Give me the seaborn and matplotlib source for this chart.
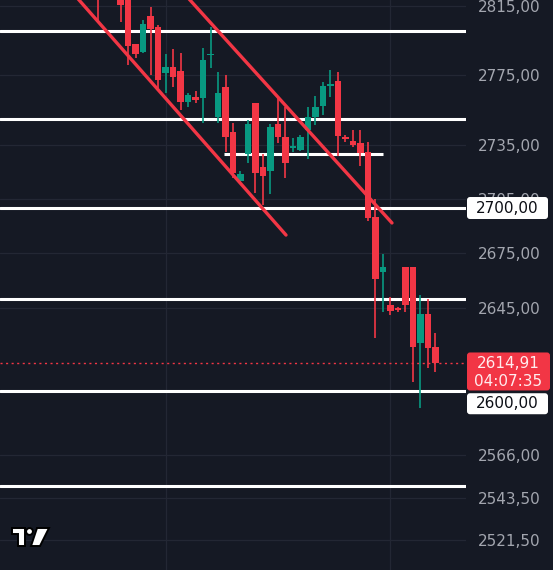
import numpy as np
import pandas as pd
import matplotlib
matplotlib.use("Agg")
import matplotlib.pyplot as plt
import matplotlib.transforms as mtransforms
from matplotlib.patches import FancyBboxPatch, Polygon, Circle
from matplotlib.ticker import NullLocator
import seaborn as sns

# ---------------- data ----------------
candle_idx = list(range(46))
open_ = [2828.0, np.nan, np.nan, 2820.0, 2819.0, 2792.7, 2788.1, 2808.9, 2802.5, 2776.1,
         2779.6, 2777.3, 2759.5, 2762.4, 2761.8, 2786.4, 2751.1, 2768.1, 2742.6, 2715.0,
         2730.2, 2759.0, 2722.9, 2720.6, 2747.1, 2739.8, 2733.5, 2732.4, 2743.7, 2751.1,
         2757.3, 2768.7, 2771.5, 2739.8, 2737.5, 2736.4, 2731.3, 2694.9, 2664.6, 2646.6,
         2644.4, 2667.4, 2667.4, 2626.0, 2641.7, 2623.8]
high = [2832.0, np.nan, np.nan, 2824.0, 2822.0, 2792.7, 2806.6, 2814.1, 2803.5, 2787.0,
        2789.9, 2787.6, 2764.7, 2765.8, 2790.5, 2802.5, 2776.7, 2775.0, 2747.7, 2720.6,
        2749.4, 2759.0, 2730.2, 2747.1, 2761.8, 2756.8, 2739.2, 2740.9, 2756.8, 2762.9,
        2770.9, 2777.9, 2776.7, 2740.9, 2743.7, 2743.7, 2737.0, 2705.0, 2674.5, 2651.0,
        2645.5, 2667.4, 2667.4, 2652.1, 2649.9, 2631.4]
low = [2806.6, np.nan, np.nan, 2805.5, 2780.7, 2784.7, 2787.6, 2775.0, 2767.5, 2764.7,
       2768.1, 2755.1, 2756.8, 2759.0, 2747.7, 2779.0, 2747.7, 2731.3, 2716.7, 2714.5,
       2725.1, 2708.3, 2701.7, 2707.8, 2736.4, 2716.7, 2731.3, 2731.8, 2727.4, 2746.5,
       2752.3, 2762.4, 2729.1, 2737.0, 2734.1, 2723.4, 2693.0, 2628.7, 2642.8, 2641.2,
       2642.8, 2642.8, 2605.0, 2591.1, 2612.5, 2610.3]
close = [2822.0, np.nan, np.nan, 2815.3, 2791.6, 2787.0, 2804.3, 2801.4, 2772.1, 2779.6,
         2773.9, 2759.5, 2763.5, 2760.7, 2783.6, 2787.3, 2764.7, 2739.8, 2719.5, 2718.9,
         2747.1, 2719.5, 2717.8, 2745.4, 2739.8, 2725.1, 2734.6, 2739.8, 2751.1, 2756.8,
         2768.7, 2769.9, 2740.4, 2738.7, 2735.3, 2730.7, 2694.4, 2660.8, 2667.4, 2643.3,
         2643.9, 2646.6, 2623.8, 2641.7, 2623.3, 2614.91]

level_prices = [2800, 2750, 2700, 2650, 2600, 2550]
short_level_price = 2730
short_level_span = [16.8, 38.0]

channel_a_x = [-3.3, 25.07]
channel_a_y = [2822.0, 2685.0]
channel_b_x = [11.47, 39.2]
channel_b_y = [2822.0, 2691.7]

price_ticks = [2815, 2775, 2735, 2705, 2675, 2645, 2566, 2543.5, 2521.5]
price_tick_labels = ["2815,00", "2775,00", "2735,00", "2705,00", "2675,00",
                     "2645,00", "2566,00", "2543,50", "2521,50"]
time_grid = [9, 39]

last_price = 2614.91
last_price_label = "2614,91"
countdown_label = "04:07:35"
boxed_levels = [2700, 2600]
boxed_labels = ["2700,00", "2600,00"]

# ---------------- style ----------------
BG = "#151924"
RED = "#f23645"
GREEN = "#089981"
GRID = "#232734"
TXT = "#a3a6af"

sns.set_theme(style="dark")
plt.rcParams["font.family"] = ["DejaVu Sans"]

W, H = 553, 570
fig = plt.figure(figsize=(W / 100, H / 100), dpi=100, facecolor=BG)
ax = fig.add_axes([0, 0, 466 / W, 1])
ax.set_facecolor(BG)
for s in ax.spines.values():
    s.set_visible(False)

ax.set_yscale("log")
ax.set_xlim(-13.07, 49.07)
ax.set_ylim(2506.0, 2818.2)

# grid
ax.set_yticks(price_ticks, labels=price_tick_labels)
ax.yaxis.set_minor_locator(NullLocator())
ax.set_xticks(time_grid, labels=[""] * len(time_grid))
ax.grid(True, color=GRID, lw=0.9)
ax.set_axisbelow(True)
ax.yaxis.tick_right()
ax.tick_params(axis="y", length=0, pad=8.6, labelsize=11, labelcolor=TXT)
ax.tick_params(axis="x", length=0)

df = pd.DataFrame({"i": candle_idx, "open": open_, "high": high,
                   "low": low, "close": close}).dropna()
up = df["close"] >= df["open"]
colors = np.where(up, GREEN, RED)

# horizontal levels
for p in level_prices:
    ax.axhline(p, color="white", lw=2.2, zorder=1)
ax.hlines(short_level_price, short_level_span[0], short_level_span[1],
          color="white", lw=2.2, zorder=1)

# candles
ax.vlines(df["i"], df["low"], df["high"], color=colors, lw=1.2, zorder=3)
body_lo = np.minimum(df["open"], df["close"])
body_h = np.maximum(np.abs(df["close"] - df["open"]), 0.9)
ax.bar(df["i"], body_h, bottom=body_lo, width=0.84, color=colors,
       linewidth=0, zorder=4)

# channel lines
chan = pd.DataFrame({
    "x": channel_a_x + channel_b_x,
    "y": channel_a_y + channel_b_y,
    "line": ["a", "a", "b", "b"],
})
sns.lineplot(data=chan, x="x", y="y", units="line", estimator=None, sort=False,
             color=RED, lw=2.4, ax=ax, zorder=5, legend=False)
ax.set_xlabel("")
ax.set_ylabel("")
ax.set_xlim(-13.07, 49.07)
ax.set_ylim(2506.0, 2818.2)

# last price dotted line
ax.axhline(last_price, color=RED, lw=1.0, ls=(0, (1.5, 2.5)), zorder=2)

# ---------------- price-scale boxes ----------------
ident = mtransforms.IdentityTransform()


def ypix(price):
    return ax.transData.transform((0, price))[1]


def box(x0, y_bottom, w, h, fc):
    p = FancyBboxPatch((x0, y_bottom), w, h,
                       boxstyle="round,pad=0,rounding_size=3",
                       fc=fc, ec="none", transform=ident, zorder=20)
    fig.add_artist(p)


# 2700 box
yc = ypix(boxed_levels[0])
box(467, yc - 11, 81, 22, "white")
fig.text(507, yc, boxed_labels[0], transform=ident, ha="center", va="center",
         fontsize=11, color="#0c0e15", zorder=21)

# last price red box
yc = ypix(last_price)
box(467, yc - 27, 83, 38, RED)
fig.text(508, yc, last_price_label, transform=ident, ha="center", va="center",
         fontsize=11, color="#ffecee", zorder=21)
fig.text(508, yc - 18.5, countdown_label, transform=ident, ha="center",
         va="center", fontsize=11, color="#ffecee", zorder=21)

# 2600 box (pushed below the red box)
yc = ypix(boxed_levels[1])
box(467, yc - 23, 81, 21, "white")
fig.text(507, yc - 12.5, boxed_labels[1], transform=ident, ha="center",
         va="center", fontsize=11, color="#0c0e15", zorder=21)

# ---------------- logo ----------------
def P(x, y):
    return (x, H - y)


logo_kw = dict(fc="white", ec="black", lw=1.4, transform=ident, zorder=20)
fig.add_artist(Polygon([P(12, 528), P(25, 528), P(25, 546), P(18, 546),
                        P(18, 534), P(12, 534)], closed=True, **logo_kw))
fig.add_artist(Circle(P(29.5, 531.5), 3.4, **logo_kw))
fig.add_artist(Polygon([P(37, 528), P(49, 528), P(40, 546), P(31, 546)],
                       closed=True, **logo_kw))

fig.savefig("out.png", dpi=100, facecolor=BG)
